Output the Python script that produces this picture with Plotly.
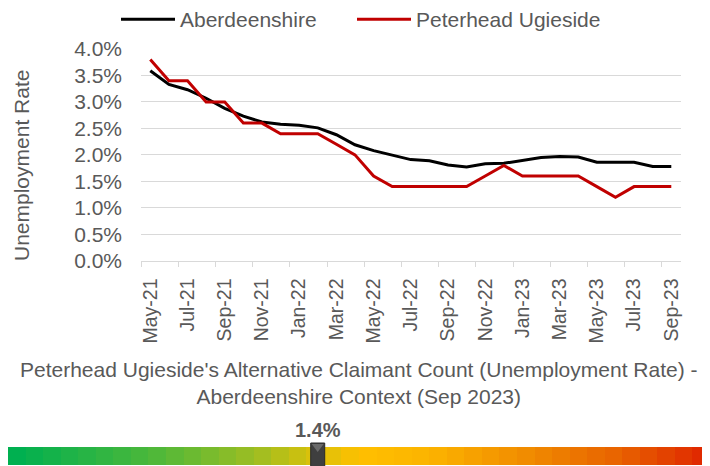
import numpy as np
import plotly.graph_objects as go

# ---------------- data ----------------
months = ["May-21", "Jun-21", "Jul-21", "Aug-21", "Sep-21", "Oct-21", "Nov-21", "Dec-21",
          "Jan-22", "Feb-22", "Mar-22", "Apr-22", "May-22", "Jun-22", "Jul-22", "Aug-22",
          "Sep-22", "Oct-22", "Nov-22", "Dec-22", "Jan-23", "Feb-23", "Mar-23", "Apr-23",
          "May-23", "Jun-23", "Jul-23", "Aug-23", "Sep-23"]
aberdeenshire = [3.59, 3.33, 3.23, 3.07, 2.88, 2.73, 2.62, 2.58, 2.56, 2.51, 2.38, 2.19,
                 2.08, 1.99, 1.91, 1.89, 1.81, 1.77, 1.83, 1.84, 1.89, 1.95, 1.97, 1.96,
                 1.86, 1.86, 1.86, 1.78, 1.78]
peterhead = [3.8, 3.4, 3.4, 3.0, 3.0, 2.6, 2.6, 2.4, 2.4, 2.4, 2.2, 2.0,
             1.6, 1.4, 1.4, 1.4, 1.4, 1.4, 1.6, 1.8, 1.6, 1.6, 1.6, 1.6,
             1.4, 1.2, 1.4, 1.4, 1.4]
series_names = ["Aberdeenshire", "Peterhead Ugieside"]
tick_labels = months[::2]
y_ticks = [0.0, 0.5, 1.0, 1.5, 2.0, 2.5, 3.0, 3.5, 4.0]
y_tick_labels = ["0.0%", "0.5%", "1.0%", "1.5%", "2.0%", "2.5%", "3.0%", "3.5%", "4.0%"]

current_value = 1.4
gauge_min, gauge_max = 0.2, 2.92
gauge_colors = [[0.0, "#00B050"], [0.2, "#4DB83A"], [0.35, "#9EBE22"], [0.43, "#D6C10C"],
                [0.5, "#FFC000"], [0.6, "#FCB400"], [0.75, "#F08A00"], [0.88, "#E86200"],
                [1.0, "#E02A00"]]

# ---------------- figure ----------------
W, H = 710, 466
OFF = 8  # page body margin
FONT = "Liberation Sans, Arial, sans-serif"
GREY = "#595959"
FS = 21

x_idx = list(range(len(months)))

fig = go.Figure()
fig.add_trace(go.Scatter(x=x_idx, y=aberdeenshire, name=series_names[0], mode="lines",
                         line=dict(color="#000000", width=3), legend="legend"))
fig.add_trace(go.Scatter(x=x_idx, y=peterhead, name=series_names[1], mode="lines",
                         line=dict(color="#C00000", width=3), legend="legend2"))

# gradient gauge bar
n_cells = 40
dx = (gauge_max - gauge_min) / n_cells
fig.add_trace(go.Heatmap(z=[list(range(n_cells))], x0=gauge_min + dx / 2, dx=dx, y=[0],
                         colorscale=gauge_colors, showscale=False, hoverinfo="skip",
                         showlegend=False, xaxis="x2", yaxis="y2"))

px = lambda p: (p - OFF) / W
py = lambda p: 1 - (p - OFF) / H

legend_common = dict(orientation="h", y=py(-1), xanchor="left", yanchor="top",
                     font=dict(size=FS, color=GREY), itemwidth=54,
                     bgcolor="rgba(0,0,0,0)")

fig.update_layout(
    width=W, height=H,
    margin=dict(l=0, r=0, t=0, b=0, autoexpand=False),
    paper_bgcolor="white", plot_bgcolor="white",
    font=dict(family=FONT, size=FS, color=GREY),
    showlegend=True,
    legend=dict(x=px(116), **legend_common),
    legend2=dict(x=px(352), **legend_common),
    xaxis=dict(domain=[px(141), px(680.6)], range=[-0.5, len(months) - 0.5],
               tickmode="array", tickvals=x_idx[::2], ticktext=tick_labels,
               tickangle=-90, ticks="", showgrid=False, zeroline=False,
               showline=True, linecolor="#D9D9D9", linewidth=1,
               ticklabelstandoff=9,
               minor=dict(tickmode="linear", tick0=-0.5, dtick=2, ticks="outside",
                          ticklen=5, tickcolor="#D9D9D9", showgrid=False),
               tickfont=dict(size=19.5, color=GREY), automargin=False, fixedrange=True),
    yaxis=dict(domain=[py(260.7), py(49)], range=[0, 4.0],
               tickmode="array", tickvals=y_ticks, ticktext=y_tick_labels,
               showgrid=True, gridcolor="#D9D9D9", gridwidth=1, zeroline=False,
               showline=False, ticks="", ticklabelstandoff=18,
               tickfont=dict(size=FS, color=GREY), automargin=False, fixedrange=True),
    xaxis2=dict(domain=[px(8), px(710)], range=[gauge_min, gauge_max], anchor="y2",
                visible=False, fixedrange=True),
    yaxis2=dict(domain=[py(465), py(447)], range=[-0.5, 0.5], anchor="x2",
                visible=False, fixedrange=True),
)

# gauge marker (placed through x2 scale)
fig.add_shape(type="rect", xref="x2", yref="paper", xsizemode="pixel", xanchor=current_value,
              x0=-7, x1=7, y0=py(467), y1=py(443), fillcolor="#3F3F3F",
              line=dict(color="#2A2A2A", width=1))
fig.add_shape(type="path", xref="x2", yref="paper", xsizemode="pixel", xanchor=current_value,
              path=f"M -6,{py(444)} L 6,{py(444)} L 0,{py(452)} Z",
              fillcolor="#6A6A6A", line=dict(width=0))
fig.add_annotation(x=current_value, xref="x2", y=py(430), yref="paper",
                   xanchor="center", yanchor="middle",
                   text=f"<b>{current_value:.1f}%</b>", showarrow=False,
                   font=dict(size=20, color=GREY, family=FONT))

# y-axis title
fig.add_annotation(x=px(22), y=py(166), xref="paper", yref="paper", text="Unemployment Rate",
                   xanchor="center", yanchor="middle",
                   textangle=-90, showarrow=False, font=dict(size=FS, color=GREY, family=FONT))

# subtitle
fig.add_annotation(x=px(359), y=py(383), xref="paper", yref="paper",
                   xanchor="center", yanchor="middle",
                   text="Peterhead Ugieside's Alternative Claimant Count (Unemployment Rate) -<br>"
                        "Aberdeenshire Context (Sep 2023)",
                   showarrow=False, align="center",
                   font=dict(size=FS, color=GREY, family=FONT))

fig.write_html("out.html")
